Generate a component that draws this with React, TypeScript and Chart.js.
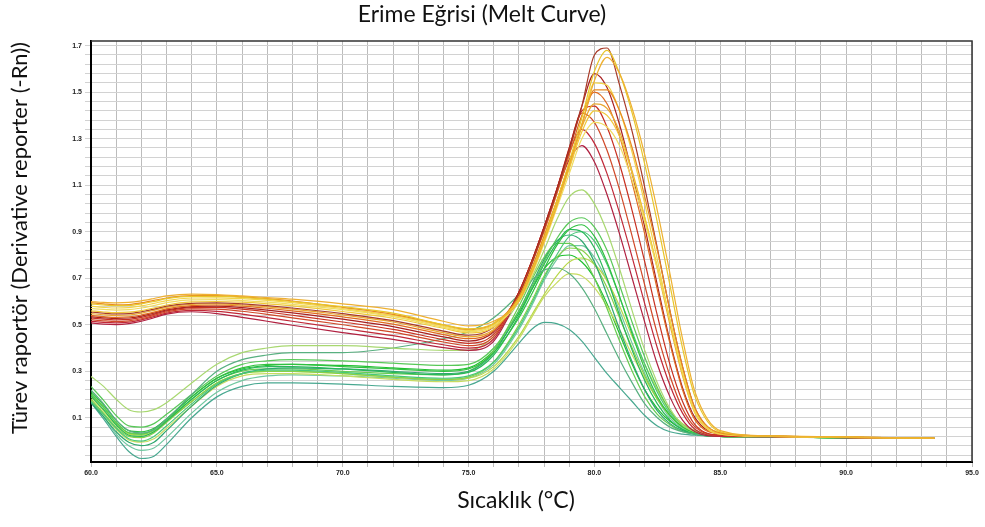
import React, { useEffect, useRef } from "react";
import { Chart, registerables } from "chart.js";

Chart.register(...registerables);

const TITLE = "Erime Eğrisi (Melt Curve)";
const X_TITLE = "Sıcaklık (°C)";
const Y_TITLE = "Türev raportör (Derivative reporter (-Rn))";

// temperatures (°C) shared by all curves
const TEMPS = [60, 60.5, 61, 61.5, 62, 62.5, 63, 64, 65, 66, 67, 68, 70, 72, 74, 75, 76, 77, 77.5, 78, 78.5, 79, 79.5, 80, 80.5, 81, 81.5, 82, 82.5, 83, 83.5, 84, 85, 87, 90, 93.5];

const X_TICKS = [60, 61, 62, 63, 64, 65, 66, 67, 68, 69, 70, 71, 72, 73, 74, 75, 76, 77, 78, 79, 80, 81, 82, 83, 84, 85, 86, 87, 88, 89, 90, 91, 92, 93, 94, 95];
const X_LABELS = [60, 65, 70, 75, 80, 85, 90, 95];
const Y_LABELS = [0.1, 0.3, 0.5, 0.7, 0.9, 1.1, 1.3, 1.5, 1.7];
const Y_TICKS = [1.7, 1.66, 1.62, 1.58, 1.54, 1.5, 1.46, 1.42, 1.38, 1.34, 1.3, 1.26, 1.22, 1.18, 1.14, 1.1, 1.06, 1.02, 0.98, 0.94, 0.9, 0.86, 0.82, 0.78, 0.74, 0.7, 0.66, 0.62, 0.58, 0.54, 0.5, 0.46, 0.42, 0.38, 0.34, 0.3, 0.26, 0.22, 0.18, 0.14, 0.1, 0.06, 0.02, -0.02, -0.06];

// warm (high Tm) curves
const W3 = [0.600, 0.596, 0.594, 0.596, 0.603, 0.613, 0.624, 0.632, 0.630, 0.624, 0.617, 0.610, 0.590, 0.565, 0.515, 0.495, 0.515, 0.60, 0.72, 0.86, 1.01, 1.18, 1.36, 1.55, 1.65, 1.58, 1.43, 1.23, 0.99, 0.72, 0.44, 0.21, 0.045, 0.022, 0.018, 0.012];
const W2 = [0.590, 0.585, 0.582, 0.583, 0.590, 0.600, 0.612, 0.622, 0.622, 0.618, 0.610, 0.600, 0.578, 0.550, 0.500, 0.482, 0.505, 0.61, 0.73, 0.87, 1.03, 1.20, 1.39, 1.59, 1.68, 1.58, 1.41, 1.19, 0.94, 0.67, 0.40, 0.19, 0.04, 0.021, 0.017, 0.012];
const W13 = [0.595, 0.590, 0.586, 0.587, 0.594, 0.605, 0.615, 0.625, 0.625, 0.620, 0.612, 0.602, 0.575, 0.545, 0.500, 0.480, 0.505, 0.62, 0.74, 0.88, 1.03, 1.19, 1.36, 1.51, 1.51, 1.42, 1.26, 1.05, 0.82, 0.56, 0.32, 0.14, 0.035, 0.021, 0.017, 0.012];
const W5 = [0.580, 0.575, 0.572, 0.574, 0.581, 0.592, 0.604, 0.615, 0.616, 0.612, 0.605, 0.595, 0.570, 0.540, 0.495, 0.475, 0.50, 0.61, 0.72, 0.86, 1.01, 1.18, 1.36, 1.54, 1.53, 1.42, 1.24, 1.02, 0.78, 0.52, 0.29, 0.12, 0.03, 0.02, 0.016, 0.012];
const W10 = [0.570, 0.566, 0.563, 0.565, 0.572, 0.583, 0.595, 0.607, 0.608, 0.604, 0.597, 0.588, 0.565, 0.535, 0.490, 0.470, 0.495, 0.60, 0.71, 0.85, 1.00, 1.15, 1.30, 1.37, 1.35, 1.27, 1.12, 0.94, 0.74, 0.52, 0.30, 0.13, 0.035, 0.02, 0.016, 0.012];
const W8 = [0.560, 0.555, 0.552, 0.554, 0.561, 0.572, 0.585, 0.598, 0.600, 0.597, 0.590, 0.581, 0.557, 0.528, 0.485, 0.465, 0.49, 0.61, 0.72, 0.86, 1.01, 1.17, 1.33, 1.42, 1.40, 1.31, 1.15, 0.96, 0.75, 0.52, 0.30, 0.13, 0.035, 0.02, 0.016, 0.012];
const W1 = [0.555, 0.550, 0.547, 0.548, 0.556, 0.567, 0.580, 0.592, 0.594, 0.590, 0.582, 0.572, 0.548, 0.518, 0.473, 0.455, 0.49, 0.63, 0.76, 0.91, 1.07, 1.25, 1.44, 1.66, 1.69, 1.53, 1.33, 1.09, 0.83, 0.56, 0.32, 0.14, 0.035, 0.021, 0.017, 0.012];
const W14 = [0.548, 0.543, 0.540, 0.542, 0.550, 0.562, 0.575, 0.588, 0.590, 0.585, 0.577, 0.567, 0.542, 0.512, 0.466, 0.448, 0.48, 0.62, 0.74, 0.88, 1.03, 1.19, 1.35, 1.45, 1.43, 1.33, 1.16, 0.96, 0.74, 0.50, 0.28, 0.12, 0.03, 0.02, 0.016, 0.012];
const W6 = [0.540, 0.535, 0.532, 0.534, 0.542, 0.554, 0.568, 0.582, 0.585, 0.580, 0.571, 0.560, 0.534, 0.503, 0.458, 0.440, 0.475, 0.63, 0.76, 0.90, 1.06, 1.23, 1.40, 1.50, 1.45, 1.31, 1.11, 0.89, 0.65, 0.42, 0.22, 0.09, 0.03, 0.02, 0.016, 0.012];
const W4 = [0.535, 0.530, 0.527, 0.529, 0.537, 0.550, 0.564, 0.578, 0.580, 0.574, 0.563, 0.551, 0.524, 0.492, 0.448, 0.430, 0.47, 0.64, 0.77, 0.92, 1.08, 1.26, 1.44, 1.58, 1.52, 1.36, 1.15, 0.92, 0.67, 0.43, 0.23, 0.10, 0.03, 0.02, 0.016, 0.012];
const W7 = [0.530, 0.524, 0.521, 0.523, 0.532, 0.545, 0.560, 0.574, 0.575, 0.567, 0.555, 0.541, 0.512, 0.480, 0.436, 0.420, 0.46, 0.64, 0.77, 0.92, 1.08, 1.25, 1.42, 1.44, 1.35, 1.19, 0.99, 0.77, 0.54, 0.33, 0.17, 0.07, 0.025, 0.02, 0.016, 0.012];
const W9 = [0.522, 0.517, 0.514, 0.517, 0.526, 0.540, 0.555, 0.568, 0.567, 0.558, 0.545, 0.530, 0.500, 0.468, 0.426, 0.410, 0.45, 0.64, 0.77, 0.92, 1.08, 1.26, 1.41, 1.37, 1.25, 1.08, 0.88, 0.67, 0.46, 0.28, 0.14, 0.06, 0.025, 0.02, 0.016, 0.012];
const W11 = [0.515, 0.510, 0.508, 0.511, 0.521, 0.535, 0.550, 0.562, 0.558, 0.546, 0.531, 0.515, 0.484, 0.453, 0.414, 0.400, 0.44, 0.64, 0.77, 0.92, 1.08, 1.24, 1.34, 1.28, 1.15, 0.98, 0.79, 0.59, 0.40, 0.24, 0.12, 0.05, 0.022, 0.019, 0.015, 0.012];
const W12 = [0.508, 0.503, 0.501, 0.505, 0.515, 0.530, 0.546, 0.556, 0.548, 0.532, 0.515, 0.498, 0.466, 0.437, 0.402, 0.390, 0.43, 0.63, 0.76, 0.91, 1.07, 1.21, 1.27, 1.20, 1.06, 0.89, 0.70, 0.51, 0.33, 0.19, 0.09, 0.04, 0.02, 0.019, 0.015, 0.012];

// green (low Tm) curves
const G1 = [0.278, 0.235, 0.18, 0.135, 0.125, 0.135, 0.165, 0.25, 0.33, 0.38, 0.40, 0.41, 0.41, 0.40, 0.39, 0.39, 0.45, 0.60, 0.70, 0.82, 0.95, 1.05, 1.08, 1.02, 0.90, 0.74, 0.56, 0.39, 0.25, 0.14, 0.07, 0.04, 0.02, 0.019, 0.015, 0.012];
const G10 = [0.22, 0.16, 0.09, 0.045, 0.035, 0.05, 0.095, 0.20, 0.30, 0.35, 0.37, 0.38, 0.38, 0.40, 0.44, 0.47, 0.53, 0.63, 0.69, 0.735, 0.744, 0.72, 0.66, 0.57, 0.46, 0.35, 0.25, 0.16, 0.10, 0.06, 0.04, 0.03, 0.02, 0.018, 0.015, 0.012];
const G2 = [0.235, 0.175, 0.11, 0.065, 0.06, 0.075, 0.115, 0.20, 0.28, 0.33, 0.345, 0.35, 0.345, 0.335, 0.325, 0.33, 0.40, 0.56, 0.66, 0.77, 0.87, 0.94, 0.96, 0.92, 0.82, 0.67, 0.51, 0.36, 0.23, 0.13, 0.07, 0.04, 0.02, 0.018, 0.015, 0.012];
const G3 = [0.214, 0.155, 0.09, 0.045, 0.04, 0.055, 0.095, 0.19, 0.27, 0.315, 0.33, 0.33, 0.32, 0.31, 0.30, 0.31, 0.38, 0.53, 0.63, 0.74, 0.84, 0.91, 0.93, 0.88, 0.77, 0.62, 0.46, 0.31, 0.19, 0.11, 0.06, 0.035, 0.02, 0.018, 0.015, 0.012];
const G4 = [0.193, 0.135, 0.07, 0.025, 0.02, 0.04, 0.085, 0.18, 0.26, 0.305, 0.32, 0.32, 0.31, 0.295, 0.285, 0.295, 0.37, 0.54, 0.65, 0.76, 0.85, 0.91, 0.90, 0.83, 0.70, 0.54, 0.39, 0.26, 0.16, 0.09, 0.05, 0.03, 0.02, 0.018, 0.014, 0.012];
const G5 = [0.171, 0.115, 0.055, 0.01, 0.0, 0.02, 0.065, 0.16, 0.245, 0.29, 0.305, 0.305, 0.295, 0.28, 0.27, 0.28, 0.34, 0.49, 0.59, 0.70, 0.80, 0.88, 0.90, 0.86, 0.76, 0.62, 0.47, 0.33, 0.21, 0.12, 0.07, 0.04, 0.02, 0.018, 0.014, 0.012];
const G6 = [0.165, 0.105, 0.04, -0.005, -0.02, -0.005, 0.045, 0.15, 0.24, 0.29, 0.31, 0.315, 0.31, 0.30, 0.29, 0.30, 0.38, 0.56, 0.67, 0.78, 0.86, 0.886, 0.86, 0.77, 0.63, 0.48, 0.34, 0.22, 0.13, 0.075, 0.045, 0.03, 0.02, 0.018, 0.014, 0.012];
const G7 = [0.20, 0.145, 0.08, 0.035, 0.03, 0.045, 0.09, 0.18, 0.26, 0.30, 0.31, 0.31, 0.30, 0.29, 0.285, 0.30, 0.39, 0.58, 0.69, 0.79, 0.85, 0.85, 0.80, 0.70, 0.57, 0.43, 0.30, 0.19, 0.115, 0.07, 0.04, 0.03, 0.02, 0.018, 0.014, 0.012];
const G8 = [0.18, 0.12, 0.06, 0.02, 0.015, 0.035, 0.08, 0.17, 0.25, 0.29, 0.30, 0.30, 0.29, 0.275, 0.265, 0.275, 0.34, 0.50, 0.60, 0.71, 0.79, 0.83, 0.82, 0.76, 0.66, 0.53, 0.40, 0.28, 0.18, 0.11, 0.06, 0.035, 0.02, 0.018, 0.014, 0.012];
const G9 = [0.19, 0.13, 0.07, 0.03, 0.025, 0.04, 0.085, 0.17, 0.25, 0.29, 0.30, 0.30, 0.29, 0.275, 0.265, 0.27, 0.32, 0.45, 0.54, 0.63, 0.71, 0.77, 0.787, 0.76, 0.69, 0.58, 0.45, 0.33, 0.22, 0.13, 0.075, 0.045, 0.02, 0.018, 0.014, 0.012];
const G11 = [0.175, 0.115, 0.05, 0.005, -0.005, 0.01, 0.055, 0.15, 0.235, 0.28, 0.29, 0.29, 0.28, 0.265, 0.255, 0.26, 0.31, 0.44, 0.53, 0.62, 0.68, 0.72, 0.71, 0.66, 0.58, 0.48, 0.37, 0.27, 0.18, 0.11, 0.065, 0.04, 0.02, 0.018, 0.014, 0.012];
const G12 = [0.165, 0.095, 0.02, -0.045, -0.075, -0.065, -0.015, 0.10, 0.19, 0.235, 0.25, 0.25, 0.245, 0.235, 0.23, 0.24, 0.30, 0.42, 0.48, 0.51, 0.505, 0.48, 0.43, 0.36, 0.29, 0.23, 0.17, 0.11, 0.065, 0.04, 0.03, 0.025, 0.02, 0.018, 0.014, 0.012];
const G13 = [0.205, 0.145, 0.08, 0.035, 0.03, 0.05, 0.095, 0.19, 0.27, 0.31, 0.325, 0.33, 0.325, 0.315, 0.305, 0.315, 0.39, 0.55, 0.65, 0.74, 0.79, 0.80, 0.77, 0.70, 0.59, 0.46, 0.33, 0.22, 0.14, 0.085, 0.05, 0.03, 0.02, 0.018, 0.014, 0.012];
const G14 = [0.17, 0.105, 0.03, -0.02, -0.04, -0.03, 0.015, 0.12, 0.21, 0.26, 0.28, 0.285, 0.28, 0.27, 0.26, 0.27, 0.33, 0.48, 0.58, 0.69, 0.78, 0.84, 0.84, 0.79, 0.69, 0.56, 0.42, 0.29, 0.18, 0.10, 0.055, 0.035, 0.02, 0.018, 0.014, 0.012];

const SERIES: { values: number[]; color: string }[] = [
  { values: W3, color: "#eeb030" },
  { values: W2, color: "#e8c62a" },
  { values: W13, color: "#e88a20" },
  { values: W5, color: "#f2d448" },
  { values: W10, color: "#f0dc60" },
  { values: W8, color: "#f0c838" },
  { values: W1, color: "#a83a28" },
  { values: W14, color: "#e8a830" },
  { values: W6, color: "#e06a20" },
  { values: W4, color: "#a82020" },
  { values: W7, color: "#c83020" },
  { values: W9, color: "#d04828" },
  { values: W11, color: "#c02838" },
  { values: W12, color: "#b02040" },
  { values: G1, color: "#a8d870" },
  { values: G10, color: "#58b080" },
  { values: G2, color: "#58c858" },
  { values: G3, color: "#30c040" },
  { values: G4, color: "#28b858" },
  { values: G5, color: "#48c878" },
  { values: G6, color: "#30a870" },
  { values: G7, color: "#68cc50" },
  { values: G8, color: "#88d048" },
  { values: G9, color: "#b8d848" },
  { values: G11, color: "#c8dc60" },
  { values: G12, color: "#48a890" },
  { values: G13, color: "#20c030" },
  { values: G14, color: "#70c8a0" },
];

const labelsPlugin = {
  id: "labelsPlugin",
  afterDraw(chart: any) {
    const { ctx, chartArea } = chart;
    ctx.save();
    ctx.strokeStyle = "#333";
    ctx.lineWidth = 1.5;
    ctx.beginPath();
    ctx.moveTo(chartArea.left, chartArea.top);
    ctx.lineTo(chartArea.right, chartArea.top);
    ctx.lineTo(chartArea.right, chartArea.bottom);
    ctx.stroke();
    ctx.fillStyle = "#111";
    ctx.textAlign = "center";
    ctx.textBaseline = "middle";
    ctx.font = "23px Lato";
    ctx.fillText(TITLE, 482, 15);
    ctx.fillText(X_TITLE, 516, 501);
    ctx.font = "22px Lato";
    ctx.translate(20, 238);
    ctx.rotate(-Math.PI / 2);
    ctx.fillText(Y_TITLE, 0, 0);
    ctx.restore();
  },
};

export default function App() {
  const ref = useRef<HTMLCanvasElement>(null);
  useEffect(() => {
    if (!ref.current) return;
    const tickFont = { family: "'Liberation Sans', Arial", size: 7, weight: "bold" as const };
    const chart = new Chart(ref.current, {
      type: "line",
      data: {
        datasets: SERIES.map((s) => ({
          data: TEMPS.map((t, i) => ({ x: t, y: s.values[i] })),
          borderColor: s.color,
          borderWidth: 1.2,
          pointRadius: 0,
          fill: false,
          cubicInterpolationMode: "monotone" as const,
        })),
      },
      options: {
        animation: false,
        responsive: false,
        devicePixelRatio: 1,
        layout: { padding: { left: 0, right: 13, top: 41, bottom: 0 } },
        plugins: { legend: { display: false }, tooltip: { enabled: false }, title: { display: false } },
        scales: {
          x: {
            type: "linear",
            min: 60,
            max: 95,
            afterBuildTicks: (scale: any) => {
              scale.ticks = X_TICKS.map((v) => ({ value: v }));
            },
            afterFit: (scale: any) => {
              scale.height = 65;
            },
            ticks: {
              autoSkip: false,
              maxRotation: 0,
              padding: 2,
              color: "#222",
              font: tickFont,
              callback: (v: any) => (X_LABELS.includes(Number(v)) ? Number(v).toFixed(1) : ""),
            },
            grid: { color: "#bcbcbc", lineWidth: 1, tickLength: 5 },
            border: { color: "#000", width: 2 },
          },
          y: {
            type: "linear",
            min: -0.09,
            max: 1.72,
            afterBuildTicks: (scale: any) => {
              scale.ticks = Y_TICKS.map((v) => ({ value: v }));
            },
            afterFit: (scale: any) => {
              scale.width = 91;
            },
            ticks: {
              autoSkip: false,
              padding: 3,
              color: "#222",
              font: tickFont,
              callback: (v: any) => {
                const n = Number(v);
                return Y_LABELS.some((l) => Math.abs(l - n) < 1e-6) ? n.toFixed(1) : "";
              },
            },
            grid: { color: "#d2d2d2", lineWidth: 1, tickLength: 6 },
            border: { color: "#000", width: 2 },
          },
        },
      },
      plugins: [labelsPlugin],
    });
    return () => chart.destroy();
  }, []);
  return (
    <div style={{ position: "absolute", left: 0, top: 0, width: 985, height: 527, background: "#fff" }}>
      <canvas ref={ref} width={985} height={527} />
    </div>
  );
}
